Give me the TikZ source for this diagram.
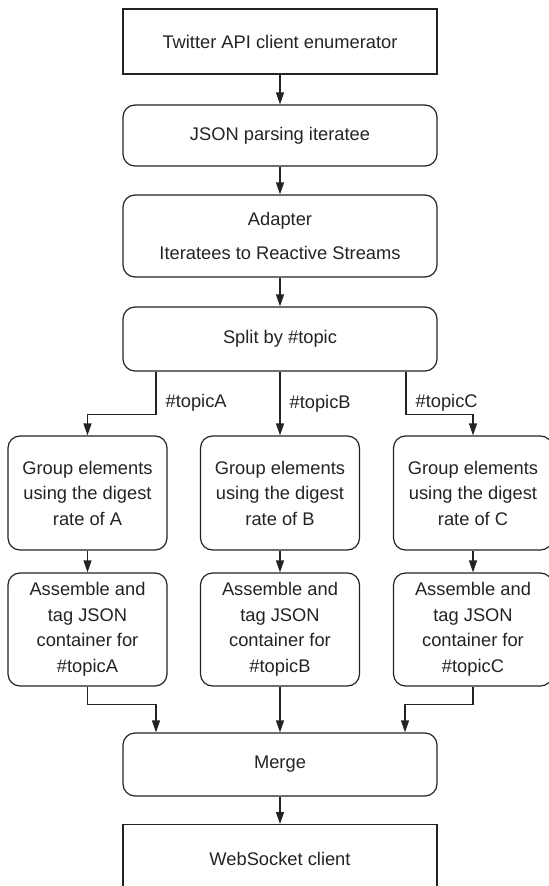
\documentclass[tikz,border=0pt]{standalone}
\usepackage{fontspec}
\setmainfont{Liberation Sans}
\usetikzlibrary{arrows.meta}
\definecolor{flowgray}{RGB}{35,35,35}

\begin{document}
\begin{tikzpicture}[x=.5pt,y=-.5pt,font=\fontsize{9.15}{12.75}\selectfont,
    >={Triangle[length=6pt,width=4pt]},
    box/.style={draw=flowgray,line width=.6pt,text=flowgray,align=center,
      inner sep=0pt,minimum width=157pt},
    rbox/.style={box,rounded corners=6pt},
    lanebox/.style={rbox,minimum width=79.5pt},
    conn/.style={->,draw=flowgray,line width=.6pt},
    tag/.style={right,text=flowgray,inner sep=2pt,xshift=2.5pt}]
    \useasboundingbox (0,0) rectangle (548,886);
    % main chain
    \node[box,minimum height=32.5pt] (client) at (280,41.5) {Twitter API client enumerator};
    \node[rbox,minimum height=30.5pt] (parse) at (280,135.5) {JSON parsing iteratee};
    \node[rbox,minimum height=41pt] (adapter) at (280,236)
      {Adapter\\[4.25pt]Iteratees to Reactive Streams};
    \node[rbox,minimum height=32pt] (split) at (280,339) {Split by \#topic};
    % one lane per topic
    \node[lanebox,minimum height=57pt] (groupA) at (87.5,493) {Group elements\\using the digest\\rate of A};
    \node[lanebox,minimum height=57pt] (groupB) at (280,493) {Group elements\\using the digest\\rate of B};
    \node[lanebox,minimum height=57pt] (groupC) at (473,493) {Group elements\\using the digest\\rate of C};
    \node[lanebox,minimum height=56.5pt] (tagA) at (87.5,629.5) {Assemble and\\tag JSON\\container for\\\#topicA};
    \node[lanebox,minimum height=56.5pt] (tagB) at (280,629.5) {Assemble and\\tag JSON\\container for\\\#topicB};
    \node[lanebox,minimum height=56.5pt] (tagC) at (473,629.5) {Assemble and\\tag JSON\\container for\\\#topicC};
    \node[rbox,minimum height=31.5pt] (merge) at (280,764.5) {Merge};
    \node[box,minimum height=34pt,anchor=north] (socket) at (280,824) {WebSocket client};
    % connectors
    \draw[conn] (client) -- (parse);
    \draw[conn] (parse) -- (adapter);
    \draw[conn] (adapter) -- (split);
    \draw[conn] ([xshift=-62pt]split.south) -- node[tag,pos=.72] {\#topicA} ++(0,-21.5pt) -| (groupA.north);
    \draw[conn] (split.south) -- node[tag,pos=.5] {\#topicB} (groupB.north);
    \draw[conn] ([xshift=63pt]split.south) -- node[tag,pos=.72] {\#topicC} ++(0,-21.5pt) -| (groupC.north);
    \draw[conn] (groupA) -- (tagA);
    \draw[conn] (groupB) -- (tagB);
    \draw[conn] (groupC) -- (tagC);
    \draw[conn] (tagA.south) -- ++(0,-9pt) -| ([xshift=-62pt]merge.north);
    \draw[conn] (tagB) -- (merge);
    \draw[conn] (tagC.south) -- ++(0,-9pt) -| ([xshift=62.5pt]merge.north);
    \draw[conn] (merge) -- (socket);
\end{tikzpicture}
\end{document}
